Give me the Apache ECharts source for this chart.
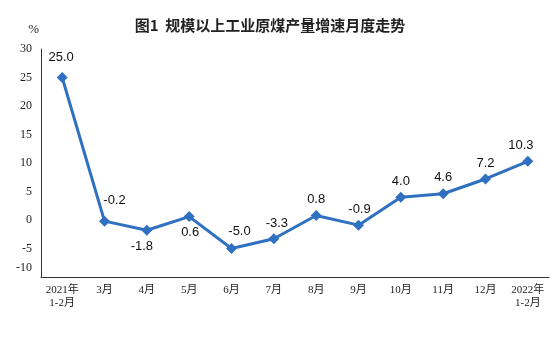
<!DOCTYPE html>
<html><head><meta charset="utf-8">
<script src="https://cdn.jsdelivr.net/npm/echarts@6/dist/echarts.min.js"></script>
<style>html,body{margin:0;padding:0;background:#fff}#c{width:554px;height:348px}</style>
</head><body><div id="c"></div>
<script>
var categories = ['2021年\n1-2月','3月','4月','5月','6月','7月','8月','9月','10月','11月','12月','2022年\n1-2月'];
var values = [25.0, -0.2, -1.8, 0.6, -5.0, -3.3, 0.8, -0.9, 4.0, 4.6, 7.2, 10.3];
var yTicks = [-10, -5, 0, 5, 10, 15, 20, 25, 30];
var titleText = '图1  规模以上工业原煤产量增速月度走势';

// label placement styles per point
var labelPos = ['top','top','bottom','bottom','top','top','top','top','top','top','top','top'];
var labelOff = [[-1,-4],[10,-5],[-5,0],[1,0],[8,-1],[3,1],[0,0],[1,0],[0,0],[0,0],[0,0],[-7,0]];

var data = values.map(function(v,i){
  return {value: v, label: {position: labelPos[i], offset: labelOff[i]}};
});

var chart = echarts.init(document.getElementById('c'));
chart.setOption({
  animation: false,
  title: {text: titleText, left: 265, top: 13, textAlign: 'center',
    textStyle: {fontFamily: 'Noto Sans CJK SC', fontSize: 15, fontWeight: 'bold', color: '#222'}},
  grid: {left: 41, top: 49, width: 508, height: 228},
  xAxis: {
    type: 'category', data: categories, boundaryGap: true,
    axisLine: {onZero: false, lineStyle: {color: '#333', width: 1}},
    axisTick: {inside: true, length: 5, lineStyle: {color: '#333'}},
    axisLabel: {fontFamily: 'Liberation Serif, Noto Sans CJK SC', fontSize: 11, color: '#222', lineHeight: 13, margin: 7, interval: 0}
  },
  yAxis: {
    type: 'value', min: yTicks[0], max: yTicks[yTicks.length-1], interval: 5,
    name: '%', nameLocation: 'end', nameGap: 13,
    nameTextStyle: {fontFamily: 'Liberation Serif', fontSize: 13, color: '#222', align: 'right', padding: [0, 2, 0, 0]},
    axisLine: {show: true, lineStyle: {color: '#333', width: 1}},
    axisTick: {show: false},
    splitLine: {show: false},
    axisLabel: {fontFamily: 'Liberation Serif', fontSize: 12, color: '#222', margin: 9,
      formatter: function(v){ return v === yTicks[0] ? '{low|' + v + '}' : String(v); },
      rich: {low: {fontFamily: 'Liberation Serif', fontSize: 12, color: '#222', padding: [0,0,18,0]}}}
  },
  series: [{
    type: 'line', data: data,
    symbol: 'diamond', symbolSize: 11,
    lineStyle: {color: '#3070C0', width: 3},
    itemStyle: {color: '#3070C0'},
    label: {show: true, distance: 4, fontFamily: 'Liberation Sans', fontSize: 13, color: '#111',
      formatter: function(p){ return p.value.toFixed(1); }}
  }]
});
</script></body></html>
